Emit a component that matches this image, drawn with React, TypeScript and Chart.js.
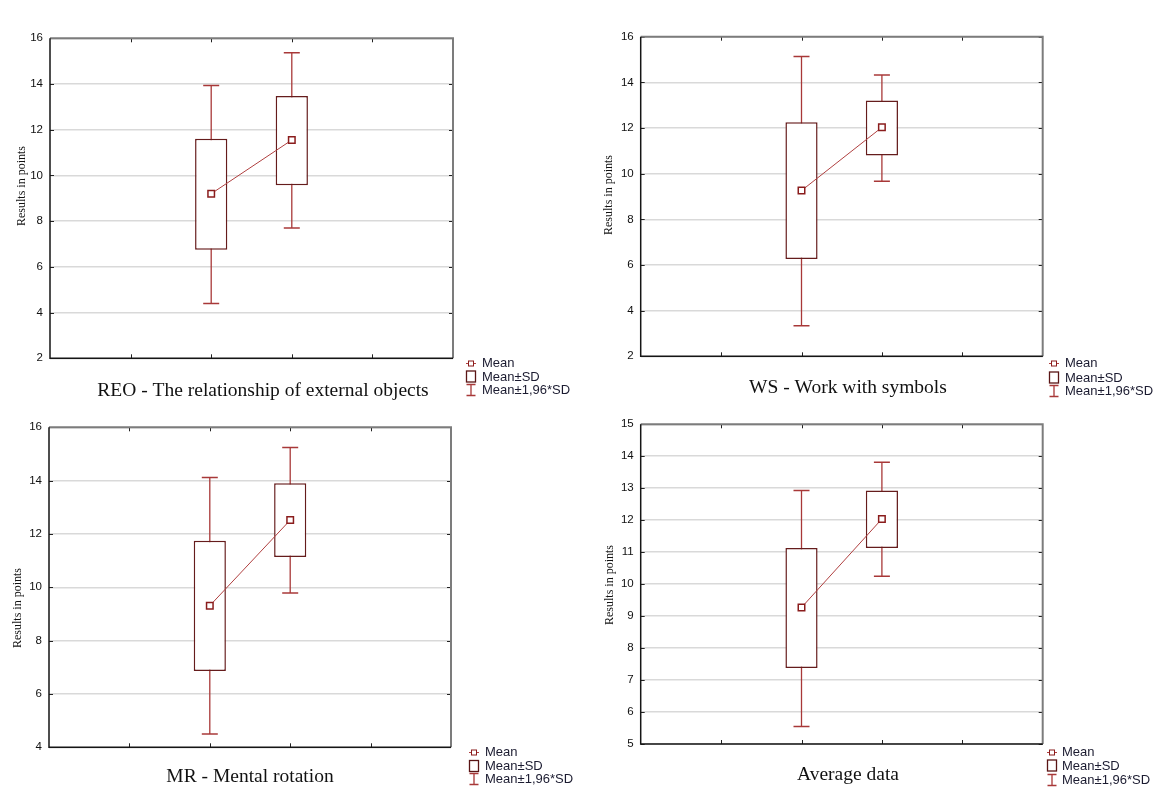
import React, { useEffect, useRef } from 'react';
import { Chart, registerables } from 'chart.js';

Chart.register(...registerables);

// ---------- data ----------
const GROUP_X = [2, 3];
const X_MIN = 0;
const X_MAX = 5;

const REO_MEAN = [9.2, 11.55];
const REO_SD_LOW = [6.75, 9.57];
const REO_SD_HIGH = [11.6, 13.48];
const REO_CI_LOW = [4.4, 7.7];
const REO_CI_HIGH = [13.93, 15.37];

const WS_MEAN = [9.26, 12.03];
const WS_SD_LOW = [6.26, 10.8];
const WS_SD_HIGH = [12.25, 13.2];
const WS_CI_LOW = [3.34, 9.67];
const WS_CI_HIGH = [15.13, 14.32];

const MR_MEAN = [9.31, 12.52];
const MR_SD_LOW = [6.86, 11.14];
const MR_SD_HIGH = [11.75, 13.9];
const MR_CI_LOW = [4.5, 9.79];
const MR_CI_HIGH = [14.12, 15.24];

const AVG_MEAN = [9.27, 12.04];
const AVG_SD_LOW = [7.38, 11.13];
const AVG_SD_HIGH = [11.13, 12.93];
const AVG_CI_LOW = [5.55, 10.25];
const AVG_CI_HIGH = [12.93, 13.81];

const Y_RANGE_REO = [2, 16, 2];
const Y_RANGE_WS = [2, 16, 2];
const Y_RANGE_MR = [4, 16, 2];
const Y_RANGE_AVG = [5, 15, 1];

const TITLES = [
  'REO - The relationship of external objects',
  'WS - Work with symbols',
  'MR - Mental rotation',
  'Average data',
];
const Y_AXIS_TITLE = 'Results in points';
const LEGEND_LABELS = ['Mean', 'Mean±SD', 'Mean±1,96*SD'];

// ---------- styles ----------
const BOX_COLOR = '#651c1c';
const WHISKER_COLOR = '#a83838';
const MEAN_LINE_COLOR = '#b04040';
const MEAN_POINT_COLOR = '#8a1c1c';
const GRID_COLOR = '#d9d9d9';
const SANS = "'Liberation Sans', Arial, sans-serif";
const SERIF = "'Liberation Serif', 'Times New Roman', serif";

type Layout = {
  left: number; top: number; w: number; h: number;
  area: { left: number; top: number; right: number; bottom: number };
  yTitle: [number, number];
  title: [number, number];
  legendSymX: number; legendTextX: number; legendRows: number[];
};

type Series = {
  mean: number[]; sdLow: number[]; sdHigh: number[]; ciLow: number[]; ciHigh: number[];
  yRange: number[]; title: string;
};

const SERIES: Series[] = [
  { mean: REO_MEAN, sdLow: REO_SD_LOW, sdHigh: REO_SD_HIGH, ciLow: REO_CI_LOW, ciHigh: REO_CI_HIGH, yRange: Y_RANGE_REO, title: TITLES[0] },
  { mean: WS_MEAN, sdLow: WS_SD_LOW, sdHigh: WS_SD_HIGH, ciLow: WS_CI_LOW, ciHigh: WS_CI_HIGH, yRange: Y_RANGE_WS, title: TITLES[1] },
  { mean: MR_MEAN, sdLow: MR_SD_LOW, sdHigh: MR_SD_HIGH, ciLow: MR_CI_LOW, ciHigh: MR_CI_HIGH, yRange: Y_RANGE_MR, title: TITLES[2] },
  { mean: AVG_MEAN, sdLow: AVG_SD_LOW, sdHigh: AVG_SD_HIGH, ciLow: AVG_CI_LOW, ciHigh: AVG_CI_HIGH, yRange: Y_RANGE_AVG, title: TITLES[3] },
];

const LAYOUTS: Layout[] = [
  { left: 0, top: 0, w: 584, h: 400, area: { left: 50, top: 38.3, right: 453, bottom: 358.3 }, yTitle: [22, 186], title: [263, 391], legendSymX: 471, legendTextX: 482, legendRows: [363, 376.5, 390] },
  { left: 584, top: 0, w: 584, h: 400, area: { left: 56.7, top: 36.7, right: 458.7, bottom: 356.3 }, yTitle: [25, 195], title: [264, 388], legendSymX: 470, legendTextX: 481, legendRows: [363, 377.5, 391] },
  { left: 0, top: 400, w: 584, h: 387, area: { left: 49, top: 27.3, right: 451, bottom: 347.3 }, yTitle: [17.5, 208], title: [250, 377], legendSymX: 474, legendTextX: 485, legendRows: [352, 366, 379] },
  { left: 584, top: 400, w: 584, h: 387, area: { left: 56.7, top: 24.3, right: 458.7, bottom: 344 }, yTitle: [25.5, 185], title: [264, 375], legendSymX: 468, legendTextX: 478, legendRows: [352, 365.5, 380] },
];

function makeDecorPlugin(lay: Layout, title: string) {
  return {
    id: 'decor',
    afterDraw(chart: any) {
      const { ctx, chartArea: a, scales } = chart;
      const ys = scales.y;
      const xs = scales.x;
      ctx.save();
      // inner tick marks
      ctx.strokeStyle = '#222';
      ctx.lineWidth = 1;
      ctx.beginPath();
      ys.ticks.forEach((t: any) => {
        const y = Math.round(ys.getPixelForValue(t.value)) + 0.5;
        ctx.moveTo(a.left, y); ctx.lineTo(a.left + 4, y);
        ctx.moveTo(a.right - 4, y); ctx.lineTo(a.right, y);
      });
      xs.ticks.forEach((t: any) => {
        if (t.value <= xs.min || t.value >= xs.max) return;
        const x = Math.round(xs.getPixelForValue(t.value)) + 0.5;
        ctx.moveTo(x, a.top); ctx.lineTo(x, a.top + 4);
        ctx.moveTo(x, a.bottom); ctx.lineTo(x, a.bottom - 4);
      });
      ctx.stroke();
      // frame: top/right gray, left/bottom dark
      ctx.lineWidth = 2;
      ctx.strokeStyle = '#7c7c7c';
      ctx.beginPath();
      ctx.moveTo(a.left, a.top); ctx.lineTo(a.right, a.top); ctx.lineTo(a.right, a.bottom);
      ctx.stroke();
      ctx.lineWidth = 1.5;
      ctx.strokeStyle = '#151515';
      ctx.beginPath();
      ctx.moveTo(a.left, a.top); ctx.lineTo(a.left, a.bottom); ctx.lineTo(a.right, a.bottom);
      ctx.stroke();

      // y axis title
      ctx.fillStyle = '#111';
      ctx.font = `12px ${SERIF}`;
      ctx.textAlign = 'center';
      ctx.textBaseline = 'middle';
      ctx.save();
      ctx.translate(lay.yTitle[0], lay.yTitle[1]);
      ctx.rotate(-Math.PI / 2);
      ctx.fillText(Y_AXIS_TITLE, 0, 0);
      ctx.restore();

      // chart title
      ctx.font = `19.5px ${SERIF}`;
      ctx.fillStyle = '#111';
      ctx.fillText(title, lay.title[0], lay.title[1]);

      // legend
      const sx = lay.legendSymX;
      const [r1, r2, r3] = lay.legendRows;
      ctx.lineWidth = 1;
      ctx.strokeStyle = MEAN_LINE_COLOR;
      ctx.beginPath();
      ctx.moveTo(sx - 5, r1 + 0.5); ctx.lineTo(sx + 5, r1 + 0.5);
      ctx.stroke();
      ctx.fillStyle = '#fff';
      ctx.fillRect(sx - 2.5, r1 - 2, 5, 5);
      ctx.strokeStyle = MEAN_POINT_COLOR;
      ctx.strokeRect(sx - 2.5, r1 - 2, 5, 5);
      ctx.lineWidth = 1.3;
      ctx.strokeStyle = '#5a1515';
      ctx.strokeRect(sx - 4.5, r2 - 5.5, 9, 11);
      ctx.strokeStyle = WHISKER_COLOR;
      ctx.beginPath();
      ctx.moveTo(sx, r3 - 5.5); ctx.lineTo(sx, r3 + 5.5);
      ctx.moveTo(sx - 4.5, r3 - 5.5); ctx.lineTo(sx + 4.5, r3 - 5.5);
      ctx.moveTo(sx - 4.5, r3 + 5.5); ctx.lineTo(sx + 4.5, r3 + 5.5);
      ctx.stroke();
      ctx.font = `13px ${SANS}`;
      ctx.fillStyle = '#1b1b30';
      ctx.textAlign = 'left';
      ctx.textBaseline = 'middle';
      ctx.fillText(LEGEND_LABELS[0], lay.legendTextX, r1 + 0.5);
      ctx.fillText(LEGEND_LABELS[1], lay.legendTextX, r2 + 0.5);
      ctx.fillText(LEGEND_LABELS[2], lay.legendTextX, r3 + 0.5);
      ctx.restore();
    },
  };
}

function Panel({ s, lay }: { s: Series; lay: Layout }) {
  const ref = useRef<HTMLCanvasElement>(null);
  useEffect(() => {
    if (!ref.current) return;
    const boxes = GROUP_X.map((x, i) => ({ x, y: [s.sdLow[i], s.sdHigh[i]] }));
    const stems: any[] = [];
    const caps: any[] = [];
    GROUP_X.forEach((x, i) => {
      stems.push({ x, y: s.ciLow[i] }, { x, y: s.ciHigh[i] });
      if (i < GROUP_X.length - 1) stems.push({ x: x + 0.5, y: null });
      caps.push({ x, y: s.ciLow[i] }, { x, y: s.ciHigh[i] });
    });
    const means = GROUP_X.map((x, i) => ({ x, y: s.mean[i] }));
    const [ymin, ymax, ystep] = s.yRange;
    const chart = new Chart(ref.current, {
      type: 'bar',
      data: {
        datasets: [
          {
            type: 'line', label: LEGEND_LABELS[0], data: means, order: 0,
            borderColor: MEAN_LINE_COLOR, borderWidth: 1,
            pointStyle: 'rect', pointRadius: 4.6, pointBackgroundColor: '#fff',
            pointBorderColor: MEAN_POINT_COLOR, pointBorderWidth: 1.5,
          } as any,
          {
            type: 'bar', label: LEGEND_LABELS[1], data: boxes as any, order: 1,
            backgroundColor: '#fff', borderColor: BOX_COLOR, borderWidth: 1.5,
            borderSkipped: false, grouped: false, barPercentage: 0.4, categoryPercentage: 1,
          } as any,
          {
            type: 'line', label: LEGEND_LABELS[2], data: stems, order: 2,
            borderColor: WHISKER_COLOR, borderWidth: 1.3, pointRadius: 0, spanGaps: false,
          } as any,
          {
            type: 'line', label: 'caps', data: caps, order: 3, showLine: false,
            pointStyle: 'line', pointRadius: 8, pointBorderColor: WHISKER_COLOR, pointBorderWidth: 1.5,
          } as any,
        ],
      },
      options: {
        responsive: false,
        animation: false,
        events: [],
        layout: {
          padding: {
            left: 0,
            top: lay.area.top,
            right: lay.w - lay.area.right,
            bottom: lay.h - lay.area.bottom,
          },
        },
        plugins: { legend: { display: false }, tooltip: { enabled: false }, title: { display: false } },
        scales: {
          x: {
            type: 'linear', display: false, min: X_MIN, max: X_MAX, offset: false,
            ticks: { stepSize: 1 },
          },
          y: {
            type: 'linear', min: ymin, max: ymax,
            ticks: { stepSize: ystep, padding: 7, color: '#111', font: { family: SANS, size: 11.5 } },
            grid: { color: GRID_COLOR, lineWidth: 1.6, drawTicks: false },
            border: { display: false },
            afterFit: (sc: any) => { sc.width = lay.area.left; },
          },
        },
      } as any,
      plugins: [makeDecorPlugin(lay, s.title)],
    });
    return () => chart.destroy();
  }, [s, lay]);
  return (
    <canvas
      ref={ref}
      width={lay.w}
      height={lay.h}
      style={{ position: 'absolute', left: lay.left, top: lay.top, width: lay.w, height: lay.h }}
    />
  );
}

export default function App() {
  return (
    <div style={{ position: 'fixed', left: 0, top: 0, width: 1168, height: 787, background: '#fff', overflow: 'hidden' }}>
      {SERIES.map((s, i) => (
        <Panel key={i} s={s} lay={LAYOUTS[i]} />
      ))}
    </div>
  );
}
